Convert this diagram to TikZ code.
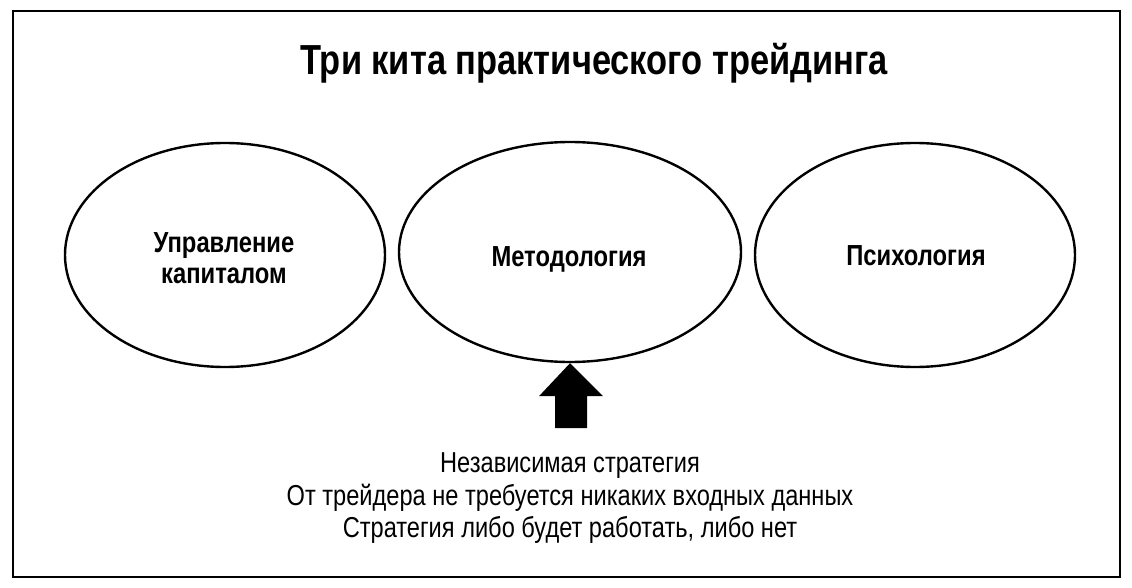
\documentclass[tikz,border=0pt]{standalone}
\usepackage{fontspec}
\setmainfont[FakeStretch=0.82]{Liberation Sans}
\usetikzlibrary{shapes.geometric}
\tikzset{
  kit/.style={draw, line width=2.4pt, ellipse, inner sep=0pt},
  frame/.style={draw, line width=2.8pt},
  kitlabel/.style={anchor=base, inner sep=0pt, font=\fontsize{29}{31}\selectfont\bfseries},
  notetext/.style={anchor=base, inner sep=0pt, font=\fontsize{28.8}{33}\selectfont}
}
\begin{document}
\begin{tikzpicture}[x=1pt,y=-1pt]
\useasboundingbox (0,0) rectangle (1132,588);
\draw[frame] (13,11) rectangle (1120,577);
\node[anchor=base, font=\fontsize{42}{44}\selectfont\bfseries, inner sep=0pt] (title) at (594,75) {Три кита практического трейдинга};
\node[kit, minimum width=320pt, minimum height=224pt] (money) at (225,255) {};
\node[kit, minimum width=342pt, minimum height=220pt] (method) at (570,252) {};
\node[kit, minimum width=320pt, minimum height=224pt] (psy) at (915,255) {};
\node[kitlabel] (moneyA) at (224,252) {Управление};
\node[kitlabel] (moneyB) at (224,283) {капиталом};
\node[kitlabel] (methodT) at (569,266) {Методология};
\node[kitlabel] (psyT) at (916,265) {Психология};
\coordinate (tip) at (method.south);
\fill (tip) -- ++(33,33) -- ++(-16,0) -- ++(0,32) -- ++(-32,0) -- ++(0,-32) -- ++(-16,0) -- cycle;
\node[notetext] (n1) at (570,472) {Независимая стратегия};
\node[notetext] (n2) at (570,505) {От трейдера не требуется никаких входных данных};
\node[notetext] (n3) at (570,537) {Стратегия либо будет работать, либо нет};
\end{tikzpicture}
\end{document}
